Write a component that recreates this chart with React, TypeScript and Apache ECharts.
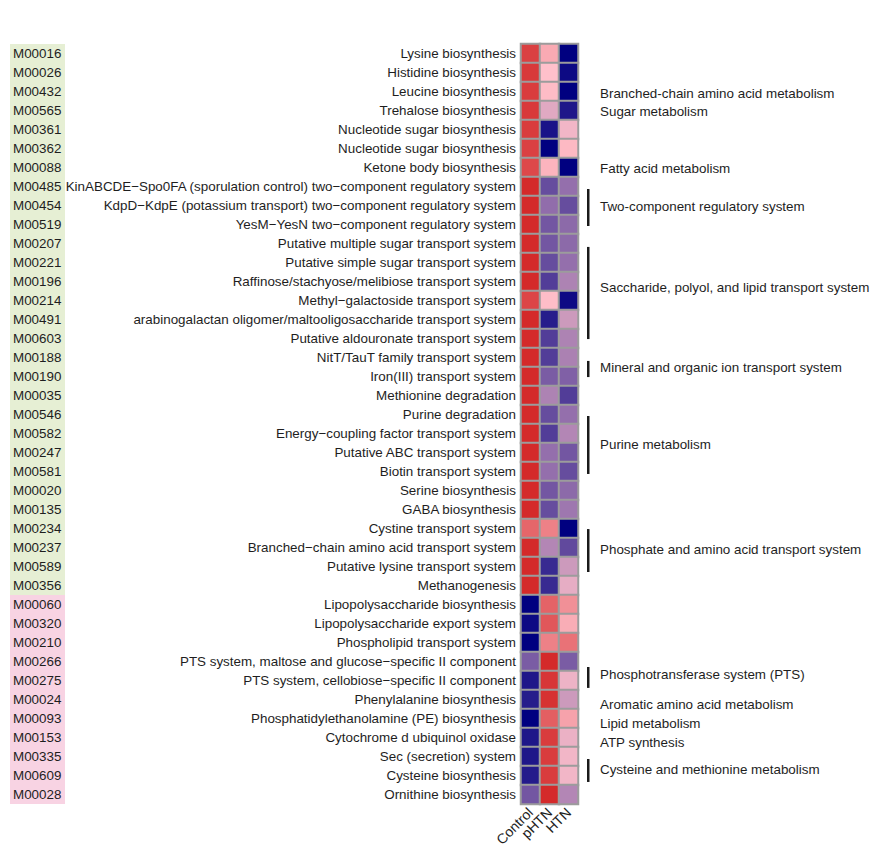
import React, { useEffect, useRef } from "react";
import * as echarts from "echarts";

const sampleGroups = ["Control", "pHTN", "HTN"];

const moduleIds = [
  "M00016", "M00026", "M00432", "M00565", "M00361", "M00362", "M00088", "M00485", "M00454", "M00519",
  "M00207", "M00221", "M00196", "M00214", "M00491", "M00603", "M00188", "M00190", "M00035", "M00546",
  "M00582", "M00247", "M00581", "M00020", "M00135", "M00234", "M00237", "M00589", "M00356", "M00060",
  "M00320", "M00210", "M00266", "M00275", "M00024", "M00093", "M00153", "M00335", "M00609", "M00028",
];

const pathwayNames = [
  "Lysine biosynthesis",
  "Histidine biosynthesis",
  "Leucine biosynthesis",
  "Trehalose biosynthesis",
  "Nucleotide sugar biosynthesis",
  "Nucleotide sugar biosynthesis",
  "Ketone body biosynthesis",
  "KinABCDE\u2212Spo0FA (sporulation control) two\u2212component regulatory system",
  "KdpD\u2212KdpE (potassium transport) two\u2212component regulatory system",
  "YesM\u2212YesN two\u2212component regulatory system",
  "Putative multiple sugar transport system",
  "Putative simple sugar transport system",
  "Raffinose/stachyose/melibiose transport system",
  "Methyl\u2212galactoside transport system",
  "arabinogalactan oligomer/maltooligosaccharide transport system",
  "Putative aldouronate transport system",
  "NitT/TauT family transport system",
  "Iron(III) transport system",
  "Methionine degradation",
  "Purine degradation",
  "Energy\u2212coupling factor transport system",
  "Putative ABC transport system",
  "Biotin transport system",
  "Serine biosynthesis",
  "GABA biosynthesis",
  "Cystine transport system",
  "Branched\u2212chain amino acid transport system",
  "Putative lysine transport system",
  "Methanogenesis",
  "Lipopolysaccharide biosynthesis",
  "Lipopolysaccharide export system",
  "Phospholipid transport system",
  "PTS system, maltose and glucose\u2212specific II component",
  "PTS system, cellobiose\u2212specific II component",
  "Phenylalanine biosynthesis",
  "Phosphatidylethanolamine (PE) biosynthesis",
  "Cytochrome d ubiquinol oxidase",
  "Sec (secretion) system",
  "Cysteine biosynthesis",
  "Ornithine biosynthesis",
];

// enrichment group of each module: "C" = control-enriched (green), "H" = hypertension-enriched (pink)
const moduleGroup = [
  "C", "C", "C", "C", "C", "C", "C", "C", "C", "C",
  "C", "C", "C", "C", "C", "C", "C", "C", "C", "C",
  "C", "C", "C", "C", "C", "C", "C", "C", "C", "H",
  "H", "H", "H", "H", "H", "H", "H", "H", "H", "H",
];

const controlValues = [
  0.85, 0.9, 0.88, 0.9, 0.88, 0.85, 0.8, 1, 1, 1,
  1, 1, 1, 0.82, 1, 1, 1, 1, 1, 1,
  1, 1, 1, 1, 1, 0.6, 1, 1, 1, -1,
  -0.95, -1, -0.52, -0.88, -0.85, -1, -0.88, -0.88, -0.86, -0.55,
];
const phtnValues = [
  0.15, 0.0, 0.03, -0.12, -0.9, -1, 0.08, -0.6, -0.43, -0.55,
  -0.55, -0.6, -0.68, 0.02, -0.85, -0.68, -0.68, -0.52, -0.32, -0.6,
  -0.68, -0.42, -0.42, -0.55, -0.6, 0.42, -0.3, -0.78, -0.78, 0.62,
  0.7, 0.42, 1, 0.92, 0.95, 0.65, 0.88, 0.88, 0.88, 1,
];
const htnValues = [
  -1, -0.95, -1, -0.88, -0.05, 0.05, -1, -0.42, -0.6, -0.45,
  -0.45, -0.42, -0.32, -0.95, -0.2, -0.32, -0.33, -0.5, -0.68, -0.42,
  -0.3, -0.55, -0.6, -0.45, -0.38, -1, -0.62, -0.2, -0.1, 0.32,
  0.13, 0.52, -0.52, -0.07, -0.2, 0.2, -0.08, -0.05, -0.05, -0.3,
];

const categoryLabels = [
  "Branched-chain amino acid metabolism",
  "Sugar metabolism",
  "Fatty acid metabolism",
  "Two-component regulatory system",
  "Saccharide, polyol, and lipid transport system",
  "Mineral and organic ion transport system",
  "Purine metabolism",
  "Phosphate and amino acid transport system",
  "Phosphotransferase system (PTS)",
  "Aromatic amino acid metabolism",
  "Lipid metabolism",
  "ATP synthesis",
  "Cysteine and methionine metabolism",
];
// row (centre units) where each category label sits
const categoryLabelRows = [2.08, 3.03, 6.03, 8.03, 12.29, 16.5, 20.6, 26.08, 32.71, 34.24, 35.24, 36.24, 37.71];
// bracket extent in row-edge units (null = no bracket)
const bracketStartRows = [null, null, null, 7.63, 10.68, 16.68, 19.58, 25.53, 32.79, null, null, null, 37.63];
const bracketEndRows = [null, null, null, 9.58, 15.53, 17.53, 22.63, 27.79, 33.89, null, null, null, 38.84];

const FONT = '"Liberation Sans", Arial, Helvetica, sans-serif';
const TEXT = "#1e1e1e";
const FS = 13.4;

export default function App() {
  const ref = useRef<HTMLDivElement>(null);

  useEffect(() => {
    document.body.style.margin = "0";
    if (!ref.current) return;
    const chart = echarts.init(ref.current, null, { renderer: "svg" });

    const columns = [controlValues, phtnValues, htnValues];
    const heatData: number[][] = [];
    columns.forEach((col, x) => {
      col.forEach((v, y) => heatData.push([x, y, v]));
    });

    const option = {
      animation: false,
      backgroundColor: "#ffffff",
      grid: { left: 521, top: 44, width: 57, height: 760, containLabel: false },
      xAxis: {
        type: "category",
        data: sampleGroups,
        position: "bottom",
        axisLine: { show: false },
        axisTick: { show: false },
        splitLine: { show: false },
        axisLabel: { rotate: 45, margin: 6, fontSize: 14, fontFamily: FONT, color: TEXT, interval: 0 },
      },
      yAxis: [
        {
          type: "category",
          data: pathwayNames,
          inverse: true,
          position: "left",
          axisLine: { show: false },
          axisTick: { show: false },
          splitLine: { show: false },
          axisLabel: { interval: 0, margin: 5, fontSize: FS, fontFamily: FONT, color: TEXT },
        },
        {
          type: "category",
          data: moduleIds,
          inverse: true,
          position: "left",
          offset: 511,
          axisLine: { show: false },
          axisTick: { show: false },
          splitLine: { show: false },
          axisLabel: {
            interval: 0,
            margin: 0,
            align: "left",
            formatter: (v: string, idx: number) => `{${moduleGroup[idx] === "C" ? "g" : "p"}|${v}}`,
            rich: {
              g: {
                backgroundColor: "#E6EFD4",
                width: 52,
                height: 19,
                lineHeight: 19,
                padding: [0, 0, 0, 3],
                fontSize: FS,
                fontFamily: FONT,
                color: TEXT,
              },
              p: {
                backgroundColor: "#F8D3E3",
                width: 52,
                height: 19,
                lineHeight: 19,
                padding: [0, 0, 0, 3],
                fontSize: FS,
                fontFamily: FONT,
                color: TEXT,
              },
            },
          },
        },
      ],
      visualMap: {
        show: false,
        type: "continuous",
        min: -1,
        max: 1,
        seriesIndex: 0,
        dimension: 2,
        inRange: { color: ["#000080", "#FFC0CB", "#D42A2A"] },
      },
      series: [
        {
          type: "heatmap",
          xAxisIndex: 0,
          yAxisIndex: 0,
          data: heatData,
          itemStyle: { borderColor: "#9c9c9c", borderWidth: 2 },
          emphasis: { disabled: true },
        },
        {
          type: "custom",
          xAxisIndex: 0,
          yAxisIndex: 0,
          clip: false,
          silent: true,
          data: categoryLabels.map((_, i) => [2, i]),
          renderItem: (params: any, api: any) => {
            const i = params.dataIndex;
            const c0 = api.coord([2, 0]);
            const sz = api.size([1, 1]);
            const cellW = sz[0];
            const cellH = sz[1];
            const top = c0[1] - cellH / 2;
            const right = c0[0] + cellW / 2;
            const children: any[] = [];
            const s = bracketStartRows[i];
            const e = bracketEndRows[i];
            if (s != null && e != null) {
              children.push({
                type: "rect",
                shape: { x: right + 9, y: top + s * cellH, width: 2.5, height: (e - s) * cellH },
                style: { fill: "#1a1a1a" },
              });
            }
            children.push({
              type: "text",
              x: right + 22,
              y: top + (categoryLabelRows[i] + 0.5) * cellH,
              style: {
                text: categoryLabels[i],
                fill: TEXT,
                fontSize: FS,
                fontFamily: FONT,
                align: "left",
                verticalAlign: "middle",
              },
            });
            return { type: "group", children };
          },
        },
      ],
    };

    chart.setOption(option as any);
    return () => chart.dispose();
  }, []);

  return <div ref={ref} style={{ width: 878, height: 860 }} />;
}
